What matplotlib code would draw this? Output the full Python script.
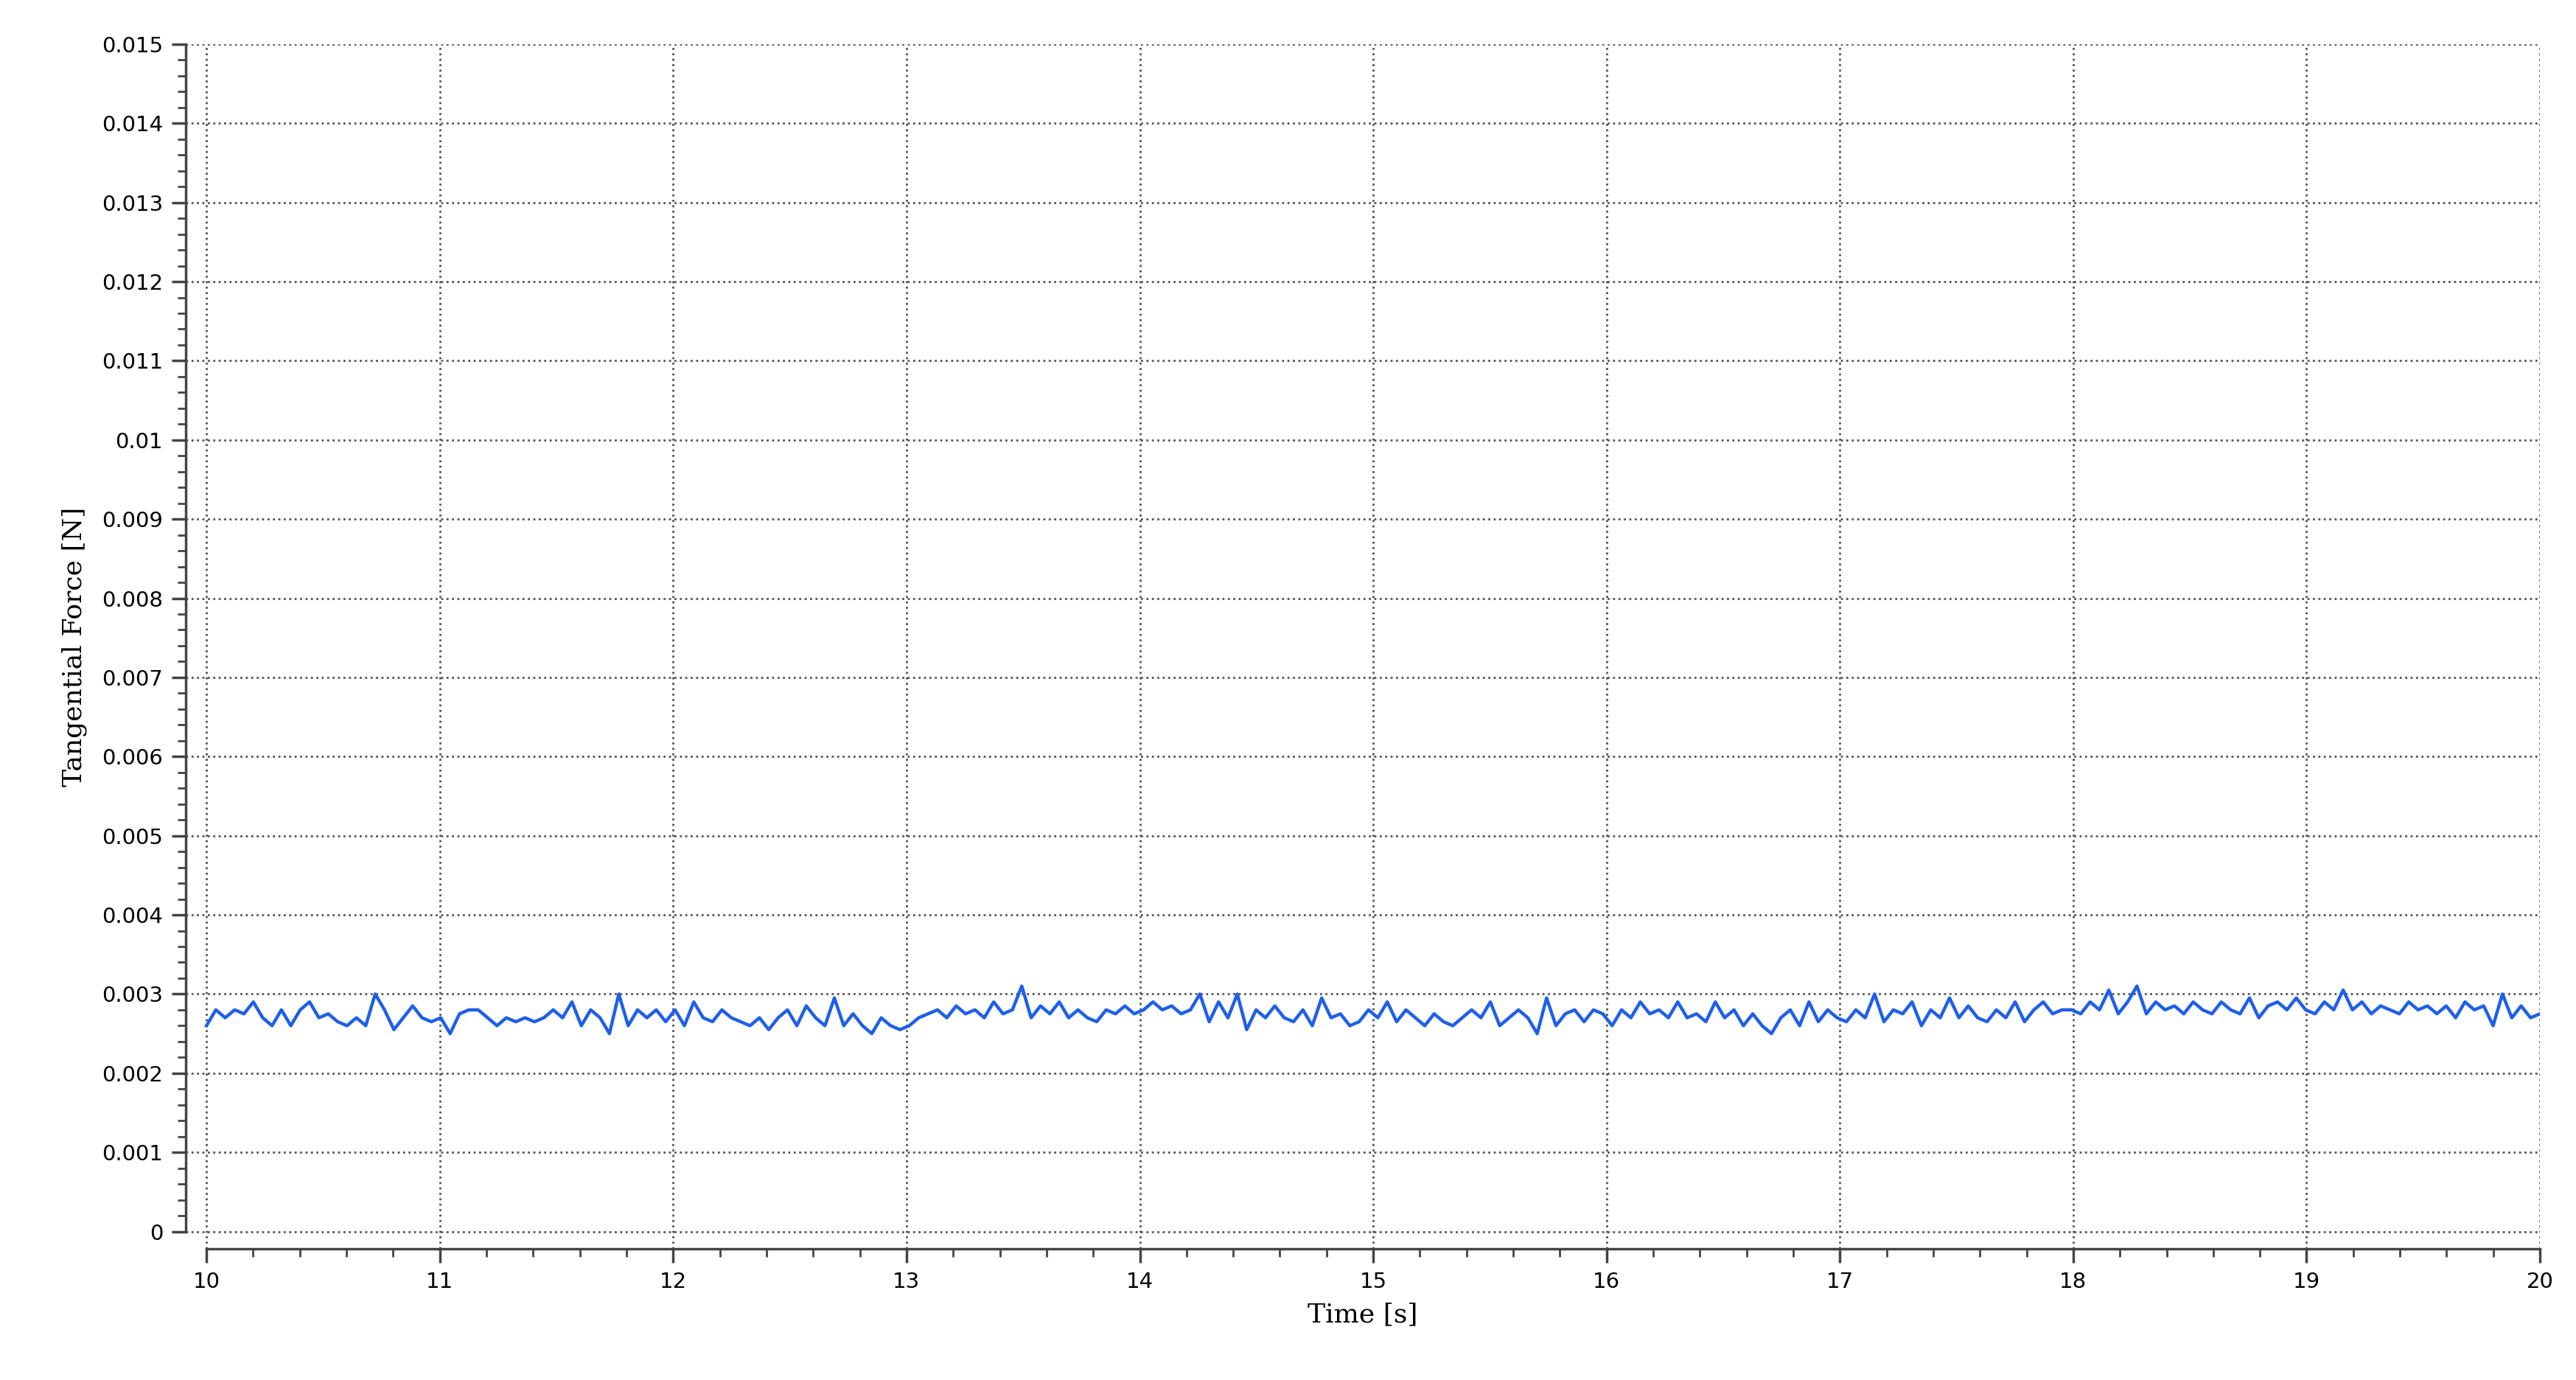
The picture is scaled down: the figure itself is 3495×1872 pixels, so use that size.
"""Tangential force vs time, 10-20 s."""

import matplotlib

matplotlib.use("Agg")
import matplotlib.pyplot as plt
import numpy as np
from matplotlib.ticker import FixedLocator

# force readings in units of 1e-4 N, one row per second (10 s .. 20 s)
FORCE_E4 = [
    26, 28, 27, 28, 27.5, 29, 27, 26, 28, 26, 28, 29, 27, 27.5, 26.5, 26, 27, 26, 30, 28, 25.5, 27, 28.5, 27, 26.5,
    27, 25, 27.5, 28, 28, 27, 26, 27, 26.5, 27, 26.5, 27, 28, 27, 29, 26, 28, 27, 25, 30, 26, 28, 27, 28, 26.5,
    28, 26, 29, 27, 26.5, 28, 27, 26.5, 26, 27, 25.5, 27, 28, 26, 28.5, 27, 26, 29.5, 26, 27.5, 26, 25, 27, 26, 25.5,
    26, 27, 27.5, 28, 27, 28.5, 27.5, 28, 27, 29, 27.5, 28, 31, 27, 28.5, 27.5, 29, 27, 28, 27, 26.5, 28, 27.5, 28.5, 27.5,
    28, 29, 28, 28.5, 27.5, 28, 30, 26.5, 29, 27, 30, 25.5, 28, 27, 28.5, 27, 26.5, 28, 26, 29.5, 27, 27.5, 26, 26.5, 28,
    27, 29, 26.5, 28, 27, 26, 27.5, 26.5, 26, 27, 28, 27, 29, 26, 27, 28, 27, 25, 29.5, 26, 27.5, 28, 26.5, 28, 27.5,
    26, 28, 27, 29, 27.5, 28, 27, 29, 27, 27.5, 26.5, 29, 27, 28, 26, 27.5, 26, 25, 27, 28, 26, 29, 26.5, 28, 27,
    26.5, 28, 27, 30, 26.5, 28, 27.5, 29, 26, 28, 27, 29.5, 27, 28.5, 27, 26.5, 28, 27, 29, 26.5, 28, 29, 27.5, 28, 28,
    27.5, 29, 28, 30.5, 27.5, 29, 31, 27.5, 29, 28, 28.5, 27.5, 29, 28, 27.5, 29, 28, 27.5, 29.5, 27, 28.5, 29, 28, 29.5, 28,
    27.5, 29, 28, 30.5, 28, 29, 27.5, 28.5, 28, 27.5, 29, 28, 28.5, 27.5, 28.5, 27, 29, 28, 28.5, 26, 30, 27, 28.5, 27, 27.5,
]
X_TICKS = list(range(10, 21))
Y_TICKS = [i / 1000 for i in range(16)]
Y_LABELS = ["0"] + [f"{v:g}" for v in Y_TICKS[1:]]

force = np.array(FORCE_E4) * 1e-4
time = np.linspace(10, 20, len(force))

fig = plt.figure(figsize=(34.95, 18.72), dpi=100)
ax = fig.add_axes([0.072, 0.095, 0.914, 0.873])
ax.plot(time, force, color="#1f5fe8", lw=3.2)

ax.set_xlim(9.91, 20.0)
ax.set_ylim(-0.00022, 0.015)
ax.spines["top"].set_visible(False)
ax.spines["right"].set_visible(False)
ax.spines["left"].set_bounds(0, 0.015)
ax.spines["bottom"].set_bounds(10, 20)
for s in ("left", "bottom"):
    ax.spines[s].set_linewidth(2.5)
    ax.spines[s].set_color("#444444")

ax.set_xticks(X_TICKS)
ax.set_yticks(Y_TICKS)
ax.set_yticklabels(Y_LABELS)
ax.xaxis.set_minor_locator(FixedLocator(np.arange(10, 20.01, 0.2)))
ax.yaxis.set_minor_locator(FixedLocator(np.arange(0, 0.01501, 0.0002)))
ax.tick_params(which="major", length=14, width=2.5, color="#444444", labelsize=21, pad=8)
ax.tick_params(which="minor", length=8, width=2, color="#444444")
ax.grid(True, which="major", linestyle=":", color="#555555", lw=2)

ax.set_xlabel("Time [s]", family="DejaVu Serif", fontsize=26, labelpad=10)
ax.set_ylabel("Tangential Force [N]", family="DejaVu Serif", fontsize=26, labelpad=14)

fig.savefig("out.png", dpi=100)
